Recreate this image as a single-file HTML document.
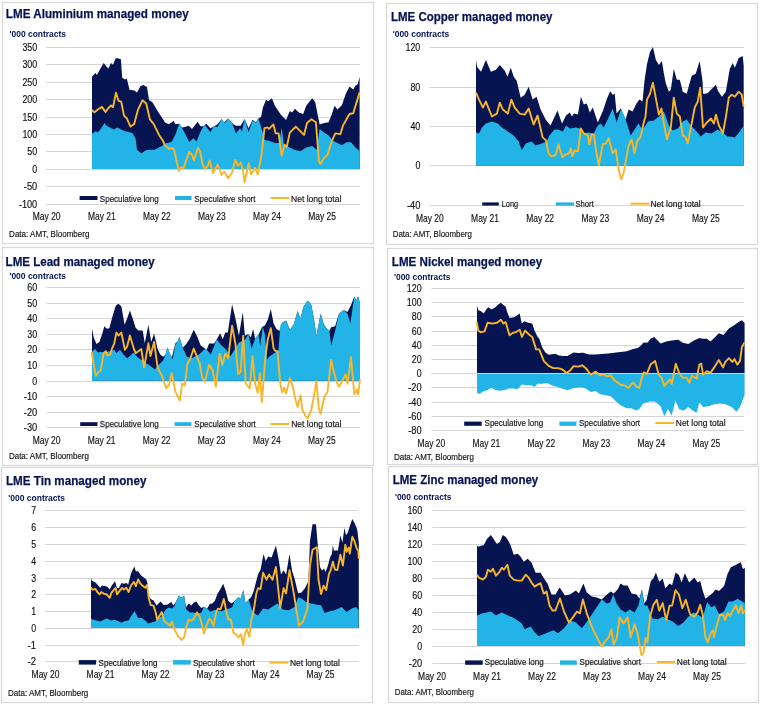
<!DOCTYPE html>
<html><head><meta charset="utf-8"><style>
html,body{margin:0;padding:0;background:#fff;width:760px;height:704px;overflow:hidden}
svg{display:block;will-change:transform}
text{font-family:"Liberation Sans", sans-serif}
</style></head><body>
<svg width="760" height="704" viewBox="0 0 760 704">
<rect width="760" height="704" fill="#fff"/>
<rect x="2.5" y="2.5" width="371.0" height="241.0" fill="#fff" stroke="#d9d9d9" stroke-width="1.3"/>
<text x="5.8" y="17.7" font-size="13.00" font-weight="bold" fill="#061452" text-anchor="start" textLength="183.0" lengthAdjust="spacingAndGlyphs" stroke="#061452" stroke-width="0.25">LME Aluminium managed money</text>
<text x="9.5" y="37.1" font-size="9.80" font-weight="bold" fill="#061452" text-anchor="start" textLength="56.5" lengthAdjust="spacingAndGlyphs">'000 contracts</text>
<line x1="46.0" y1="47.50" x2="360.0" y2="47.50" stroke="#d5d5d5" stroke-width="1"/>
<line x1="46.0" y1="64.50" x2="360.0" y2="64.50" stroke="#d5d5d5" stroke-width="1"/>
<line x1="46.0" y1="82.50" x2="360.0" y2="82.50" stroke="#d5d5d5" stroke-width="1"/>
<line x1="46.0" y1="99.50" x2="360.0" y2="99.50" stroke="#d5d5d5" stroke-width="1"/>
<line x1="46.0" y1="117.50" x2="360.0" y2="117.50" stroke="#d5d5d5" stroke-width="1"/>
<line x1="46.0" y1="134.50" x2="360.0" y2="134.50" stroke="#d5d5d5" stroke-width="1"/>
<line x1="46.0" y1="151.50" x2="360.0" y2="151.50" stroke="#d5d5d5" stroke-width="1"/>
<line x1="46.0" y1="169.50" x2="360.0" y2="169.50" stroke="#d5d5d5" stroke-width="1"/>
<line x1="46.0" y1="186.50" x2="360.0" y2="186.50" stroke="#d5d5d5" stroke-width="1"/>
<line x1="46.0" y1="204.50" x2="360.0" y2="204.50" stroke="#d5d5d5" stroke-width="1"/>
<polygon points="92.0,169.1 92.0,76.8 95.4,73.0 96.9,75.0 101.0,67.5 103.7,63.0 106.5,66.6 108.3,68.5 111.0,63.0 113.0,64.8 115.7,58.3 117.5,58.3 120.9,59.2 122.2,77.7 125.0,79.5 126.8,78.6 129.5,89.7 134.2,90.6 137.0,92.5 140.6,86.0 143.4,85.0 147.0,87.0 149.0,99.9 152.6,102.6 158.2,111.9 163.7,120.2 165.0,122.4 168.9,124.3 173.6,121.0 175.5,124.3 178.8,123.7 182.1,127.6 184.7,127.0 188.7,125.7 192.0,128.9 197.6,121.7 200.5,126.3 203.2,126.3 206.4,123.7 210.4,128.3 214.3,126.3 217.6,124.3 221.6,119.0 223.6,123.0 228.2,118.4 233.4,124.3 236.0,125.7 240.7,125.7 244.6,119.0 248.6,128.3 252.5,119.7 255.8,122.4 258.4,118.4 261.0,117.0 263.0,107.3 266.0,99.8 268.2,101.3 271.9,98.3 274.9,105.8 277.9,110.3 280.9,114.7 286.1,120.0 289.8,111.0 292.1,112.5 295.0,108.8 298.8,112.5 303.2,114.0 306.2,105.8 309.2,102.0 312.2,98.3 315.2,102.0 317.4,113.2 319.6,124.4 324.1,123.0 328.6,122.2 331.6,114.7 334.6,105.8 337.5,109.5 342.0,105.0 345.7,93.9 349.5,86.4 353.2,89.4 355.4,85.7 357.7,84.2 359.6,76.7 359.6,169.1" fill="#061452"/>
<polygon points="92.0,169.1 92.0,134.0 95.4,131.3 98.0,132.2 101.0,128.5 104.6,123.0 106.5,125.7 110.0,127.6 114.0,129.4 117.5,127.6 121.0,129.4 125.0,131.3 132.3,133.0 135.6,138.6 137.0,149.7 141.5,153.4 145.2,150.6 149.0,149.7 154.5,149.7 161.9,146.0 165.0,143.4 171.6,142.1 175.5,134.2 179.5,123.0 182.1,128.3 184.7,132.9 189.3,142.1 193.3,138.2 196.6,141.4 199.9,132.9 204.5,124.3 210.4,132.2 213.7,126.3 217.6,127.0 221.6,119.0 224.9,123.0 228.2,118.4 232.1,123.0 236.0,133.6 240.0,128.3 242.0,131.6 244.6,119.0 248.6,132.2 252.5,120.4 255.8,123.0 258.4,118.4 262.4,131.6 264.5,140.0 269.0,140.8 274.9,143.0 279.4,143.0 281.6,127.4 283.9,144.6 289.8,147.5 294.3,149.8 300.3,151.3 306.2,147.5 312.2,146.0 316.7,149.8 319.6,128.9 324.1,132.6 328.6,135.6 333.1,140.8 337.5,143.0 342.0,145.3 346.5,142.3 351.0,142.3 355.4,147.5 359.6,151.3 359.6,169.1" fill="#22b4e7"/>
<polyline points="92.0,110.0 94.5,112.4 97.2,110.0 101.9,106.9 105.5,111.9 108.3,108.2 111.0,105.4 113.0,107.2 116.0,92.8 118.5,100.8 121.2,101.7 124.0,115.6 126.8,118.3 130.5,126.6 134.2,123.9 137.9,110.0 142.5,100.2 146.2,103.5 149.9,119.3 153.6,123.9 159.1,134.9 162.8,140.5 165.0,145.4 168.9,148.7 172.2,148.0 174.2,150.0 178.8,171.0 181.4,167.1 183.4,168.4 189.3,152.0 192.0,154.6 193.9,160.5 197.9,148.0 199.9,150.7 202.5,163.8 205.1,169.0 207.8,165.8 209.7,160.5 213.0,173.0 217.6,164.5 221.6,175.0 224.2,171.7 228.2,178.3 232.1,172.4 235.4,159.9 238.0,165.8 240.7,162.5 242.6,168.4 244.6,182.2 248.6,163.2 251.2,174.3 255.1,167.8 257.8,174.3 260.4,161.2 261.5,155.0 264.5,128.2 267.5,127.4 269.0,128.9 273.4,124.4 275.7,133.4 278.6,133.4 281.6,155.7 284.6,144.6 286.8,146.8 289.8,132.6 292.8,129.6 295.8,126.7 299.5,130.4 304.0,134.9 307.0,122.9 311.4,119.2 313.7,120.7 315.9,122.2 318.9,161.0 320.4,164.0 324.1,158.0 327.8,154.3 331.6,141.6 335.3,133.4 340.5,134.1 342.8,125.9 346.5,119.2 349.5,114.0 353.2,113.2 356.2,103.6 359.6,92.4" fill="none" stroke="#f9b52a" stroke-width="1.90" stroke-linejoin="round"/>
<text x="37.2" y="51.0" font-size="10.00" font-weight="normal" fill="#111111" text-anchor="end" textLength="14.8" lengthAdjust="spacingAndGlyphs" stroke="#111111" stroke-width="0.15">350</text>
<text x="37.2" y="68.0" font-size="10.00" font-weight="normal" fill="#111111" text-anchor="end" textLength="14.8" lengthAdjust="spacingAndGlyphs" stroke="#111111" stroke-width="0.15">300</text>
<text x="37.2" y="86.0" font-size="10.00" font-weight="normal" fill="#111111" text-anchor="end" textLength="14.8" lengthAdjust="spacingAndGlyphs" stroke="#111111" stroke-width="0.15">250</text>
<text x="37.2" y="103.0" font-size="10.00" font-weight="normal" fill="#111111" text-anchor="end" textLength="14.8" lengthAdjust="spacingAndGlyphs" stroke="#111111" stroke-width="0.15">200</text>
<text x="37.2" y="121.0" font-size="10.00" font-weight="normal" fill="#111111" text-anchor="end" textLength="14.8" lengthAdjust="spacingAndGlyphs" stroke="#111111" stroke-width="0.15">150</text>
<text x="37.2" y="138.0" font-size="10.00" font-weight="normal" fill="#111111" text-anchor="end" textLength="14.8" lengthAdjust="spacingAndGlyphs" stroke="#111111" stroke-width="0.15">100</text>
<text x="37.2" y="155.0" font-size="10.00" font-weight="normal" fill="#111111" text-anchor="end" textLength="9.9" lengthAdjust="spacingAndGlyphs" stroke="#111111" stroke-width="0.15">50</text>
<text x="37.2" y="173.0" font-size="10.00" font-weight="normal" fill="#111111" text-anchor="end" textLength="4.9" lengthAdjust="spacingAndGlyphs" stroke="#111111" stroke-width="0.15">0</text>
<text x="37.2" y="190.0" font-size="10.00" font-weight="normal" fill="#111111" text-anchor="end" textLength="13.4" lengthAdjust="spacingAndGlyphs" stroke="#111111" stroke-width="0.15">-50</text>
<text x="37.2" y="208.0" font-size="10.00" font-weight="normal" fill="#111111" text-anchor="end" textLength="18.3" lengthAdjust="spacingAndGlyphs" stroke="#111111" stroke-width="0.15">-100</text>
<text x="46.7" y="220.0" font-size="10.20" font-weight="normal" fill="#111111" text-anchor="middle" textLength="27.8" lengthAdjust="spacingAndGlyphs" stroke="#111111" stroke-width="0.15">May 20</text>
<text x="101.8" y="220.0" font-size="10.20" font-weight="normal" fill="#111111" text-anchor="middle" textLength="27.8" lengthAdjust="spacingAndGlyphs" stroke="#111111" stroke-width="0.15">May 21</text>
<text x="156.8" y="220.0" font-size="10.20" font-weight="normal" fill="#111111" text-anchor="middle" textLength="27.8" lengthAdjust="spacingAndGlyphs" stroke="#111111" stroke-width="0.15">May 22</text>
<text x="211.9" y="220.0" font-size="10.20" font-weight="normal" fill="#111111" text-anchor="middle" textLength="27.8" lengthAdjust="spacingAndGlyphs" stroke="#111111" stroke-width="0.15">May 23</text>
<text x="267.0" y="220.0" font-size="10.20" font-weight="normal" fill="#111111" text-anchor="middle" textLength="27.8" lengthAdjust="spacingAndGlyphs" stroke="#111111" stroke-width="0.15">May 24</text>
<text x="322.1" y="220.0" font-size="10.20" font-weight="normal" fill="#111111" text-anchor="middle" textLength="27.8" lengthAdjust="spacingAndGlyphs" stroke="#111111" stroke-width="0.15">May 25</text>
<rect x="79.6" y="196.0" width="17.9" height="4.0" fill="#061452"/>
<text x="99.8" y="201.7" font-size="8.60" font-weight="normal" fill="#111111" text-anchor="start" textLength="59.0" lengthAdjust="spacingAndGlyphs" stroke="#111111" stroke-width="0.15">Speculative long</text>
<rect x="175.0" y="196.0" width="16.5" height="4.0" fill="#22b4e7"/>
<text x="194.3" y="201.7" font-size="8.60" font-weight="normal" fill="#111111" text-anchor="start" textLength="61.2" lengthAdjust="spacingAndGlyphs" stroke="#111111" stroke-width="0.15">Speculative short</text>
<rect x="270.7" y="197.0" width="18.7" height="2.0" fill="#f9b52a"/>
<text x="291.0" y="201.7" font-size="8.60" font-weight="normal" fill="#111111" text-anchor="start" textLength="50.4" lengthAdjust="spacingAndGlyphs" stroke="#111111" stroke-width="0.15">Net long total</text>
<text x="9.1" y="237.2" font-size="8.80" font-weight="normal" fill="#111111" text-anchor="start" textLength="80.3" lengthAdjust="spacingAndGlyphs" stroke="#111111" stroke-width="0.15">Data: AMT, Bloomberg</text>
<rect x="386.5" y="3.5" width="371.0" height="241.0" fill="#fff" stroke="#d9d9d9" stroke-width="1.3"/>
<text x="391.0" y="20.8" font-size="13.00" font-weight="bold" fill="#061452" text-anchor="start" textLength="161.4" lengthAdjust="spacingAndGlyphs" stroke="#061452" stroke-width="0.25">LME Copper managed money</text>
<text x="392.7" y="37.0" font-size="9.80" font-weight="bold" fill="#061452" text-anchor="start" textLength="56.6" lengthAdjust="spacingAndGlyphs">'000 contracts</text>
<line x1="429.7" y1="47.50" x2="744.2" y2="47.50" stroke="#d5d5d5" stroke-width="1"/>
<line x1="429.7" y1="87.50" x2="744.2" y2="87.50" stroke="#d5d5d5" stroke-width="1"/>
<line x1="429.7" y1="126.50" x2="744.2" y2="126.50" stroke="#d5d5d5" stroke-width="1"/>
<line x1="429.7" y1="165.50" x2="744.2" y2="165.50" stroke="#d5d5d5" stroke-width="1"/>
<line x1="429.7" y1="205.50" x2="744.2" y2="205.50" stroke="#d5d5d5" stroke-width="1"/>
<polygon points="476.0,165.6 476.0,59.9 477.0,66.8 481.0,71.8 485.9,59.9 490.9,71.8 495.9,69.8 499.8,64.9 504.8,70.8 507.4,76.8 510.8,67.8 513.7,76.8 516.7,80.8 520.7,97.7 524.7,94.7 528.7,86.7 532.6,99.6 536.6,96.7 540.6,109.6 545.6,119.5 550.5,125.5 557.5,110.6 562.0,123.5 566.0,115.5 569.9,112.6 571.9,116.5 573.9,113.6 577.9,114.6 580.9,96.7 583.8,104.6 586.8,103.6 589.8,112.6 592.8,107.6 597.8,122.5 602.7,111.6 606.7,99.6 610.1,91.3 612.7,94.7 614.7,93.7 616.6,113.6 620.6,108.6 625.6,119.5 628.6,109.6 632.6,111.6 636.5,103.6 639.5,99.6 642.5,101.6 644.5,80.8 647.0,63.9 650.0,51.9 652.9,47.0 655.9,59.9 658.9,64.9 661.9,60.9 663.9,73.8 665.9,83.7 668.9,91.7 670.8,89.7 673.8,68.8 676.8,79.8 679.8,79.8 682.8,91.7 686.7,93.7 691.7,75.8 695.7,73.8 699.7,60.9 702.6,81.7 703.0,93.7 705.6,93.7 708.0,92.7 711.9,88.7 715.9,84.7 717.9,90.7 721.9,96.7 725.8,91.7 729.8,68.8 732.8,62.9 734.8,67.8 738.8,57.9 742.7,55.9 743.7,65.8 743.7,165.6" fill="#061452"/>
<polygon points="476.0,165.6 476.0,132.4 479.0,133.4 482.0,127.5 485.9,123.5 491.9,121.5 497.8,123.5 501.8,127.5 507.8,131.5 513.7,135.4 518.7,141.4 521.7,150.3 525.7,143.4 531.6,141.4 535.6,145.4 541.6,143.4 546.6,141.4 549.5,135.4 554.5,129.5 558.0,129.5 563.0,131.5 566.0,125.5 569.9,128.5 575.9,127.5 579.9,128.5 582.9,133.4 587.8,132.4 593.8,133.4 597.8,125.5 600.7,123.5 603.7,127.5 607.7,119.5 612.7,108.6 616.6,122.5 621.2,108.6 625.6,119.5 630.6,135.4 634.5,129.5 638.5,123.5 641.5,128.5 644.0,127.5 648.0,121.5 653.9,120.5 658.9,116.5 663.9,111.6 668.9,125.5 672.8,130.5 677.8,128.5 682.8,121.5 686.7,119.5 691.7,126.5 696.7,131.5 700.7,136.4 705.6,132.4 711.6,133.4 717.6,129.5 722.5,132.4 727.5,136.4 732.0,136.8 734.8,137.4 739.8,131.5 743.7,125.5 743.7,165.6" fill="#22b4e7"/>
<polyline points="476.0,92.7 479.0,99.6 482.9,107.6 485.9,101.6 491.9,116.5 496.9,113.6 499.8,102.6 502.8,109.6 507.8,113.6 511.4,99.6 514.7,107.6 519.7,113.6 524.7,114.6 528.7,108.6 533.6,124.5 537.6,115.5 542.6,137.4 546.0,140.4 548.5,153.3 551.5,156.3 555.5,155.3 558.5,144.4 562.4,157.3 566.0,154.3 568.9,153.3 570.9,148.3 572.3,156.3 574.9,150.3 577.9,151.3 580.9,128.5 583.8,133.4 587.8,135.4 589.4,144.4 591.8,134.4 593.8,134.4 596.2,151.3 598.8,165.2 602.7,144.4 605.7,143.4 608.7,138.4 612.7,153.3 615.7,149.3 618.6,169.2 621.2,179.2 623.6,173.2 628.6,145.4 631.6,139.4 634.5,153.3 637.5,140.4 640.5,137.4 643.5,123.5 645.5,116.5 647.0,99.6 650.0,93.7 652.9,82.7 655.9,98.6 658.9,114.6 661.5,108.6 663.9,123.5 666.9,139.4 670.8,127.5 673.8,97.7 676.8,113.6 679.8,116.5 682.8,135.4 685.7,137.4 687.7,143.4 691.7,123.5 694.7,107.6 697.7,101.6 700.2,87.7 703.0,127.5 706.0,123.5 710.9,118.5 713.9,123.5 715.9,114.6 718.9,125.5 722.9,133.4 725.8,117.5 728.8,97.7 731.8,94.7 734.8,96.7 738.8,91.7 741.7,94.7 743.7,106.6" fill="none" stroke="#f9b52a" stroke-width="1.90" stroke-linejoin="round"/>
<text x="420.3" y="51.0" font-size="10.00" font-weight="normal" fill="#111111" text-anchor="end" textLength="14.8" lengthAdjust="spacingAndGlyphs" stroke="#111111" stroke-width="0.15">120</text>
<text x="420.3" y="91.0" font-size="10.00" font-weight="normal" fill="#111111" text-anchor="end" textLength="9.9" lengthAdjust="spacingAndGlyphs" stroke="#111111" stroke-width="0.15">80</text>
<text x="420.3" y="130.0" font-size="10.00" font-weight="normal" fill="#111111" text-anchor="end" textLength="9.9" lengthAdjust="spacingAndGlyphs" stroke="#111111" stroke-width="0.15">40</text>
<text x="420.3" y="169.0" font-size="10.00" font-weight="normal" fill="#111111" text-anchor="end" textLength="4.9" lengthAdjust="spacingAndGlyphs" stroke="#111111" stroke-width="0.15">0</text>
<text x="420.3" y="209.0" font-size="10.00" font-weight="normal" fill="#111111" text-anchor="end" textLength="13.4" lengthAdjust="spacingAndGlyphs" stroke="#111111" stroke-width="0.15">-40</text>
<text x="429.8" y="221.7" font-size="10.20" font-weight="normal" fill="#111111" text-anchor="middle" textLength="27.8" lengthAdjust="spacingAndGlyphs" stroke="#111111" stroke-width="0.15">May 20</text>
<text x="485.0" y="221.7" font-size="10.20" font-weight="normal" fill="#111111" text-anchor="middle" textLength="27.8" lengthAdjust="spacingAndGlyphs" stroke="#111111" stroke-width="0.15">May 21</text>
<text x="540.2" y="221.7" font-size="10.20" font-weight="normal" fill="#111111" text-anchor="middle" textLength="27.8" lengthAdjust="spacingAndGlyphs" stroke="#111111" stroke-width="0.15">May 22</text>
<text x="595.4" y="221.7" font-size="10.20" font-weight="normal" fill="#111111" text-anchor="middle" textLength="27.8" lengthAdjust="spacingAndGlyphs" stroke="#111111" stroke-width="0.15">May 23</text>
<text x="650.6" y="221.7" font-size="10.20" font-weight="normal" fill="#111111" text-anchor="middle" textLength="27.8" lengthAdjust="spacingAndGlyphs" stroke="#111111" stroke-width="0.15">May 24</text>
<text x="705.8" y="221.7" font-size="10.20" font-weight="normal" fill="#111111" text-anchor="middle" textLength="27.8" lengthAdjust="spacingAndGlyphs" stroke="#111111" stroke-width="0.15">May 25</text>
<rect x="482.2" y="202.4" width="16.6" height="3.2" fill="#061452"/>
<text x="501.7" y="207.3" font-size="8.60" font-weight="normal" fill="#111111" text-anchor="start" textLength="16.4" lengthAdjust="spacingAndGlyphs" stroke="#111111" stroke-width="0.15">Long</text>
<rect x="556.0" y="202.4" width="17.9" height="3.2" fill="#22b4e7"/>
<text x="575.4" y="207.3" font-size="8.60" font-weight="normal" fill="#111111" text-anchor="start" textLength="18.4" lengthAdjust="spacingAndGlyphs" stroke="#111111" stroke-width="0.15">Short</text>
<rect x="630.5" y="202.7" width="19.0" height="2.0" fill="#f9b52a"/>
<text x="650.4" y="207.3" font-size="8.60" font-weight="normal" fill="#111111" text-anchor="start" textLength="50.3" lengthAdjust="spacingAndGlyphs" stroke="#111111" stroke-width="0.15">Net long total</text>
<text x="392.7" y="237.3" font-size="8.80" font-weight="normal" fill="#111111" text-anchor="start" textLength="79.2" lengthAdjust="spacingAndGlyphs" stroke="#111111" stroke-width="0.15">Data: AMT, Bloomberg</text>
<rect x="2.5" y="247.5" width="371.0" height="218.0" fill="#fff" stroke="#d9d9d9" stroke-width="1.3"/>
<text x="5.6" y="265.9" font-size="13.00" font-weight="bold" fill="#061452" text-anchor="start" textLength="149.0" lengthAdjust="spacingAndGlyphs" stroke="#061452" stroke-width="0.25">LME Lead managed money</text>
<text x="9.4" y="278.6" font-size="9.80" font-weight="bold" fill="#061452" text-anchor="start" textLength="56.6" lengthAdjust="spacingAndGlyphs">'000 contracts</text>
<line x1="46.4" y1="287.50" x2="360.0" y2="287.50" stroke="#d5d5d5" stroke-width="1"/>
<line x1="46.4" y1="303.50" x2="360.0" y2="303.50" stroke="#d5d5d5" stroke-width="1"/>
<line x1="46.4" y1="318.50" x2="360.0" y2="318.50" stroke="#d5d5d5" stroke-width="1"/>
<line x1="46.4" y1="334.50" x2="360.0" y2="334.50" stroke="#d5d5d5" stroke-width="1"/>
<line x1="46.4" y1="349.50" x2="360.0" y2="349.50" stroke="#d5d5d5" stroke-width="1"/>
<line x1="46.4" y1="365.50" x2="360.0" y2="365.50" stroke="#d5d5d5" stroke-width="1"/>
<line x1="46.4" y1="381.50" x2="360.0" y2="381.50" stroke="#d5d5d5" stroke-width="1"/>
<line x1="46.4" y1="396.50" x2="360.0" y2="396.50" stroke="#d5d5d5" stroke-width="1"/>
<line x1="46.4" y1="412.50" x2="360.0" y2="412.50" stroke="#d5d5d5" stroke-width="1"/>
<line x1="46.4" y1="427.50" x2="360.0" y2="427.50" stroke="#d5d5d5" stroke-width="1"/>
<polygon points="92.0,380.8 92.0,328.4 93.7,337.6 96.5,344.0 99.4,341.9 102.2,334.1 104.3,326.3 106.5,328.4 109.3,328.4 112.1,317.7 115.7,305.7 118.5,303.8 121.4,306.4 124.6,324.8 127.1,318.4 129.9,310.6 132.7,318.4 135.6,327.7 138.4,330.5 142.7,330.5 144.8,343.3 148.4,324.8 151.2,341.9 154.1,333.4 157.6,349.0 160.4,354.7 163.3,356.8 165.4,354.7 167.5,347.6 169.7,353.2 171.8,357.5 175.4,343.3 178.0,341.2 179.3,336.6 182.7,347.7 186.1,344.3 189.5,339.2 193.7,329.8 197.2,336.6 200.6,345.2 204.0,347.7 206.5,350.3 209.1,343.5 214.2,343.5 216.8,339.2 220.2,333.2 222.7,339.2 225.3,332.4 227.8,332.4 232.1,304.3 235.5,318.7 238.9,335.8 242.8,311.9 244.9,335.8 248.3,334.1 250.8,337.5 253.1,329.0 255.1,338.4 258.5,334.9 261.9,327.3 265.0,325.3 267.9,319.5 270.8,309.0 273.6,323.4 276.5,329.1 279.4,331.1 282.3,322.4 286.1,320.5 290.0,330.1 293.8,324.3 297.6,310.9 300.5,318.6 303.4,307.1 307.6,300.4 311.1,304.2 313.9,318.6 316.4,335.9 320.7,313.8 323.5,323.4 326.4,328.2 329.3,331.1 331.2,327.2 335.1,326.3 338.9,313.8 343.7,310.0 347.5,311.9 351.4,304.2 354.3,296.5 356.2,300.4 358.1,296.5 360.0,303.2 360.0,380.8" fill="#061452"/>
<polygon points="92.0,380.8 92.0,351.8 95.1,349.0 97.9,352.5 100.8,351.8 103.6,352.5 107.2,351.8 110.7,351.1 114.3,349.7 116.4,353.2 120.0,349.7 123.5,354.7 127.1,358.2 130.6,355.4 133.5,352.5 137.7,357.5 142.0,360.3 146.2,363.2 150.5,366.0 154.8,369.6 159.0,364.6 163.3,360.3 165.4,354.7 167.5,347.6 169.7,353.2 172.5,359.6 175.4,344.7 178.0,341.2 179.3,336.6 182.7,347.7 186.9,357.1 192.0,358.0 198.9,354.5 205.7,348.6 210.8,354.5 216.8,339.2 220.2,344.3 226.1,349.4 230.4,356.2 234.7,349.4 238.9,342.6 244.9,340.1 248.3,334.1 251.7,348.6 255.1,338.4 258.5,334.1 260.2,346.0 262.8,326.4 265.0,335.0 267.0,359.7 268.8,357.0 271.7,355.1 274.6,353.1 278.4,350.3 280.4,325.3 282.3,322.4 286.1,320.5 290.0,330.1 293.8,324.3 297.6,310.9 300.5,318.6 303.4,307.1 307.6,300.4 311.1,304.2 313.9,318.6 316.4,335.9 320.7,313.8 323.5,323.4 326.4,328.2 329.3,330.1 331.2,345.5 335.1,331.1 338.9,313.8 343.7,310.0 347.5,313.8 350.4,323.4 352.3,310.0 354.3,296.5 356.2,300.4 358.1,296.5 360.0,303.2 360.0,380.8" fill="#22b4e7"/>
<polyline points="91.6,351.8 93.7,364.6 95.8,376.0 98.7,371.7 100.8,370.3 103.6,353.2 105.8,351.1 107.2,355.4 110.0,354.7 112.1,348.3 114.3,343.3 116.4,332.6 118.5,335.5 121.4,332.6 124.9,349.7 127.1,346.8 129.9,335.5 133.5,347.6 135.6,353.2 137.7,351.8 141.3,349.0 144.1,367.4 148.4,343.3 150.5,356.1 154.1,341.9 157.6,367.4 161.9,376.0 166.1,388.0 169.0,385.2 171.8,373.1 175.4,391.6 179.8,400.6 182.2,383.5 184.9,385.2 187.3,363.9 190.3,358.8 193.7,348.6 197.2,357.1 199.7,363.1 202.3,378.4 204.8,381.8 209.1,364.8 212.5,369.9 215.9,386.9 219.7,353.7 222.4,364.8 225.3,353.7 228.2,358.0 232.1,325.6 235.5,344.3 238.1,374.1 240.6,371.6 243.2,335.8 245.7,383.5 249.7,388.6 252.6,356.2 255.1,383.5 257.7,392.9 259.9,373.3 261.9,402.3 265.3,358.0 267.9,338.7 270.8,328.2 273.6,348.3 275.6,351.2 277.5,351.2 280.4,384.8 282.3,392.5 284.2,387.7 286.1,393.4 290.0,378.1 292.8,386.7 295.7,400.2 297.6,406.9 300.5,395.4 302.4,409.8 305.3,415.5 307.6,418.4 311.1,410.7 313.9,396.3 316.4,381.0 318.7,407.8 320.7,413.6 324.5,396.3 327.4,392.5 331.2,359.9 334.1,373.3 337.0,382.9 338.9,386.7 341.8,381.9 345.6,374.3 347.5,383.8 351.0,357.0 354.3,394.4 356.7,389.6 358.1,394.4 360.0,379.0" fill="none" stroke="#f9b52a" stroke-width="1.90" stroke-linejoin="round"/>
<text x="37.2" y="291.0" font-size="10.00" font-weight="normal" fill="#111111" text-anchor="end" textLength="9.9" lengthAdjust="spacingAndGlyphs" stroke="#111111" stroke-width="0.15">60</text>
<text x="37.2" y="307.0" font-size="10.00" font-weight="normal" fill="#111111" text-anchor="end" textLength="9.9" lengthAdjust="spacingAndGlyphs" stroke="#111111" stroke-width="0.15">50</text>
<text x="37.2" y="322.0" font-size="10.00" font-weight="normal" fill="#111111" text-anchor="end" textLength="9.9" lengthAdjust="spacingAndGlyphs" stroke="#111111" stroke-width="0.15">40</text>
<text x="37.2" y="338.0" font-size="10.00" font-weight="normal" fill="#111111" text-anchor="end" textLength="9.9" lengthAdjust="spacingAndGlyphs" stroke="#111111" stroke-width="0.15">30</text>
<text x="37.2" y="353.0" font-size="10.00" font-weight="normal" fill="#111111" text-anchor="end" textLength="9.9" lengthAdjust="spacingAndGlyphs" stroke="#111111" stroke-width="0.15">20</text>
<text x="37.2" y="369.0" font-size="10.00" font-weight="normal" fill="#111111" text-anchor="end" textLength="9.9" lengthAdjust="spacingAndGlyphs" stroke="#111111" stroke-width="0.15">10</text>
<text x="37.2" y="385.0" font-size="10.00" font-weight="normal" fill="#111111" text-anchor="end" textLength="4.9" lengthAdjust="spacingAndGlyphs" stroke="#111111" stroke-width="0.15">0</text>
<text x="37.2" y="400.0" font-size="10.00" font-weight="normal" fill="#111111" text-anchor="end" textLength="13.4" lengthAdjust="spacingAndGlyphs" stroke="#111111" stroke-width="0.15">-10</text>
<text x="37.2" y="416.0" font-size="10.00" font-weight="normal" fill="#111111" text-anchor="end" textLength="13.4" lengthAdjust="spacingAndGlyphs" stroke="#111111" stroke-width="0.15">-20</text>
<text x="37.2" y="431.0" font-size="10.00" font-weight="normal" fill="#111111" text-anchor="end" textLength="13.4" lengthAdjust="spacingAndGlyphs" stroke="#111111" stroke-width="0.15">-30</text>
<text x="46.6" y="444.0" font-size="10.20" font-weight="normal" fill="#111111" text-anchor="middle" textLength="27.8" lengthAdjust="spacingAndGlyphs" stroke="#111111" stroke-width="0.15">May 20</text>
<text x="101.7" y="444.0" font-size="10.20" font-weight="normal" fill="#111111" text-anchor="middle" textLength="27.8" lengthAdjust="spacingAndGlyphs" stroke="#111111" stroke-width="0.15">May 21</text>
<text x="156.7" y="444.0" font-size="10.20" font-weight="normal" fill="#111111" text-anchor="middle" textLength="27.8" lengthAdjust="spacingAndGlyphs" stroke="#111111" stroke-width="0.15">May 22</text>
<text x="211.7" y="444.0" font-size="10.20" font-weight="normal" fill="#111111" text-anchor="middle" textLength="27.8" lengthAdjust="spacingAndGlyphs" stroke="#111111" stroke-width="0.15">May 23</text>
<text x="266.8" y="444.0" font-size="10.20" font-weight="normal" fill="#111111" text-anchor="middle" textLength="27.8" lengthAdjust="spacingAndGlyphs" stroke="#111111" stroke-width="0.15">May 24</text>
<text x="321.9" y="444.0" font-size="10.20" font-weight="normal" fill="#111111" text-anchor="middle" textLength="27.8" lengthAdjust="spacingAndGlyphs" stroke="#111111" stroke-width="0.15">May 25</text>
<rect x="80.2" y="422.2" width="17.3" height="3.8" fill="#061452"/>
<text x="99.8" y="426.8" font-size="8.60" font-weight="normal" fill="#111111" text-anchor="start" textLength="59.0" lengthAdjust="spacingAndGlyphs" stroke="#111111" stroke-width="0.15">Speculative long</text>
<rect x="174.6" y="422.2" width="16.8" height="3.8" fill="#22b4e7"/>
<text x="194.3" y="426.8" font-size="8.60" font-weight="normal" fill="#111111" text-anchor="start" textLength="61.5" lengthAdjust="spacingAndGlyphs" stroke="#111111" stroke-width="0.15">Speculative short</text>
<rect x="270.5" y="423.0" width="18.5" height="2.0" fill="#f9b52a"/>
<text x="291.2" y="426.8" font-size="8.60" font-weight="normal" fill="#111111" text-anchor="start" textLength="50.3" lengthAdjust="spacingAndGlyphs" stroke="#111111" stroke-width="0.15">Net long total</text>
<text x="8.9" y="458.9" font-size="8.80" font-weight="normal" fill="#111111" text-anchor="start" textLength="80.1" lengthAdjust="spacingAndGlyphs" stroke="#111111" stroke-width="0.15">Data: AMT, Bloomberg</text>
<rect x="387.5" y="248.5" width="370.0" height="216.0" fill="#fff" stroke="#d9d9d9" stroke-width="1.3"/>
<text x="391.8" y="266.0" font-size="13.00" font-weight="bold" fill="#061452" text-anchor="start" textLength="150.3" lengthAdjust="spacingAndGlyphs" stroke="#061452" stroke-width="0.25">LME Nickel manged money</text>
<text x="393.9" y="279.6" font-size="9.80" font-weight="bold" fill="#061452" text-anchor="start" textLength="56.7" lengthAdjust="spacingAndGlyphs">'000 contracts</text>
<line x1="431.4" y1="288.50" x2="744.4" y2="288.50" stroke="#d5d5d5" stroke-width="1"/>
<line x1="431.4" y1="302.50" x2="744.4" y2="302.50" stroke="#d5d5d5" stroke-width="1"/>
<line x1="431.4" y1="316.50" x2="744.4" y2="316.50" stroke="#d5d5d5" stroke-width="1"/>
<line x1="431.4" y1="331.50" x2="744.4" y2="331.50" stroke="#d5d5d5" stroke-width="1"/>
<line x1="431.4" y1="345.50" x2="744.4" y2="345.50" stroke="#d5d5d5" stroke-width="1"/>
<line x1="431.4" y1="359.50" x2="744.4" y2="359.50" stroke="#d5d5d5" stroke-width="1"/>
<line x1="431.4" y1="373.50" x2="744.4" y2="373.50" stroke="#d5d5d5" stroke-width="1"/>
<line x1="431.4" y1="387.50" x2="744.4" y2="387.50" stroke="#d5d5d5" stroke-width="1"/>
<line x1="431.4" y1="402.50" x2="744.4" y2="402.50" stroke="#d5d5d5" stroke-width="1"/>
<line x1="431.4" y1="416.50" x2="744.4" y2="416.50" stroke="#d5d5d5" stroke-width="1"/>
<line x1="431.4" y1="430.50" x2="744.4" y2="430.50" stroke="#d5d5d5" stroke-width="1"/>
<polygon points="477.0,373.0 477.0,305.6 478.3,310.3 480.6,311.1 483.7,313.4 486.8,308.8 488.4,307.2 491.5,309.5 495.4,307.2 497.8,304.8 500.9,302.8 504.0,305.6 505.6,306.4 507.2,311.9 509.5,318.1 514.2,317.3 516.5,315.8 519.7,313.4 521.7,323.6 524.3,321.3 528.3,322.8 532.2,323.6 534.5,330.6 537.6,336.9 539.2,338.4 542.3,347.8 545.4,352.5 548.6,354.8 553.3,354.1 556.4,354.1 558.0,355.2 562.7,355.9 567.4,355.9 573.6,352.5 578.3,353.1 583.0,352.8 589.3,354.4 595.5,354.4 601.8,354.1 608.0,353.6 614.3,352.8 620.5,352.0 626.8,351.3 633.0,348.9 637.7,348.1 640.8,345.8 643.2,342.7 647.7,342.5 650.5,338.8 654.2,336.9 656.9,339.7 660.6,343.4 666.2,341.6 671.7,340.6 678.2,339.7 682.8,342.8 688.3,344.0 693.9,340.6 699.4,337.9 703.1,338.8 706.8,338.8 710.5,341.6 714.2,337.9 718.8,333.2 723.4,335.1 728.9,328.6 734.5,324.9 738.2,322.2 741.9,320.3 744.6,323.1 744.6,373.0" fill="#061452"/>
<polygon points="477.0,374.0 477.0,393.1 479.8,393.9 482.9,391.6 487.6,390.0 491.5,387.7 495.4,390.0 500.1,390.8 504.8,390.0 508.7,388.4 513.4,388.4 517.3,389.2 522.0,384.5 526.7,385.3 531.4,385.3 534.5,386.9 537.6,383.8 542.3,383.8 547.0,383.0 551.7,385.3 557.2,386.9 562.7,388.8 567.4,390.3 573.6,388.0 581.4,387.2 586.1,388.8 590.8,391.9 595.5,391.1 600.2,394.2 604.9,395.0 611.1,396.6 615.8,401.3 620.5,405.2 626.8,408.3 631.4,408.3 636.1,410.6 639.3,409.1 643.2,403.6 649.5,401.6 655.1,401.6 660.6,406.2 664.3,416.3 668.0,409.0 671.7,415.4 675.4,400.6 679.1,409.0 683.7,410.8 688.3,407.1 692.9,410.8 696.6,412.7 699.4,402.5 703.1,407.1 708.6,406.2 714.2,404.3 719.7,403.4 725.3,404.3 731.7,407.1 736.3,411.7 740.0,407.1 744.6,395.1 744.6,374.0" fill="#22b4e7"/>
<line x1="431.4" y1="373.50" x2="744.4" y2="373.50" stroke="#d5d5d5" stroke-width="1"/>
<polyline points="476.7,322.0 478.3,330.6 480.6,332.2 484.5,331.4 487.6,322.8 492.3,323.6 497.0,322.8 500.9,319.7 503.3,323.6 505.6,322.0 509.5,335.3 512.6,333.0 515.8,332.2 519.7,329.8 522.0,336.9 525.1,330.6 529.0,334.5 532.2,336.9 536.1,349.4 539.2,349.4 543.9,361.1 548.6,365.8 553.3,368.1 557.9,368.1 561.9,369.2 566.6,373.1 569.7,370.8 573.6,366.1 578.3,366.6 582.2,365.3 586.1,368.4 590.8,374.7 595.5,371.6 600.2,375.5 603.3,373.9 606.4,376.3 611.1,375.5 614.3,380.2 620.5,384.8 625.2,385.6 628.3,388.0 633.0,382.5 636.1,386.4 639.3,388.0 641.6,378.6 643.9,372.3 646.8,373.9 650.5,364.6 655.1,360.9 658.8,374.8 661.5,377.6 664.3,385.9 669.9,379.4 671.7,384.0 675.8,363.7 679.1,372.9 682.8,377.6 686.5,377.6 689.2,382.7 692.0,375.7 696.6,378.5 699.4,364.6 701.2,363.7 703.1,374.8 706.8,371.1 710.5,372.9 714.2,367.4 718.8,360.0 723.0,367.4 725.3,361.9 728.9,358.2 732.3,361.9 734.5,359.1 737.3,364.6 740.0,360.9 741.9,347.1 744.6,342.5" fill="none" stroke="#f9b52a" stroke-width="1.90" stroke-linejoin="round"/>
<text x="421.6" y="292.0" font-size="10.00" font-weight="normal" fill="#111111" text-anchor="end" textLength="14.8" lengthAdjust="spacingAndGlyphs" stroke="#111111" stroke-width="0.15">120</text>
<text x="421.6" y="306.0" font-size="10.00" font-weight="normal" fill="#111111" text-anchor="end" textLength="14.8" lengthAdjust="spacingAndGlyphs" stroke="#111111" stroke-width="0.15">100</text>
<text x="421.6" y="320.0" font-size="10.00" font-weight="normal" fill="#111111" text-anchor="end" textLength="9.9" lengthAdjust="spacingAndGlyphs" stroke="#111111" stroke-width="0.15">80</text>
<text x="421.6" y="335.0" font-size="10.00" font-weight="normal" fill="#111111" text-anchor="end" textLength="9.9" lengthAdjust="spacingAndGlyphs" stroke="#111111" stroke-width="0.15">60</text>
<text x="421.6" y="349.0" font-size="10.00" font-weight="normal" fill="#111111" text-anchor="end" textLength="9.9" lengthAdjust="spacingAndGlyphs" stroke="#111111" stroke-width="0.15">40</text>
<text x="421.6" y="363.0" font-size="10.00" font-weight="normal" fill="#111111" text-anchor="end" textLength="9.9" lengthAdjust="spacingAndGlyphs" stroke="#111111" stroke-width="0.15">20</text>
<text x="421.6" y="377.0" font-size="10.00" font-weight="normal" fill="#111111" text-anchor="end" textLength="4.9" lengthAdjust="spacingAndGlyphs" stroke="#111111" stroke-width="0.15">0</text>
<text x="421.6" y="391.0" font-size="10.00" font-weight="normal" fill="#111111" text-anchor="end" textLength="13.4" lengthAdjust="spacingAndGlyphs" stroke="#111111" stroke-width="0.15">-20</text>
<text x="421.6" y="406.0" font-size="10.00" font-weight="normal" fill="#111111" text-anchor="end" textLength="13.4" lengthAdjust="spacingAndGlyphs" stroke="#111111" stroke-width="0.15">-40</text>
<text x="421.6" y="420.0" font-size="10.00" font-weight="normal" fill="#111111" text-anchor="end" textLength="13.4" lengthAdjust="spacingAndGlyphs" stroke="#111111" stroke-width="0.15">-60</text>
<text x="421.6" y="434.0" font-size="10.00" font-weight="normal" fill="#111111" text-anchor="end" textLength="13.4" lengthAdjust="spacingAndGlyphs" stroke="#111111" stroke-width="0.15">-80</text>
<text x="431.4" y="446.8" font-size="10.20" font-weight="normal" fill="#111111" text-anchor="middle" textLength="27.8" lengthAdjust="spacingAndGlyphs" stroke="#111111" stroke-width="0.15">May 20</text>
<text x="486.4" y="446.8" font-size="10.20" font-weight="normal" fill="#111111" text-anchor="middle" textLength="27.8" lengthAdjust="spacingAndGlyphs" stroke="#111111" stroke-width="0.15">May 21</text>
<text x="541.4" y="446.8" font-size="10.20" font-weight="normal" fill="#111111" text-anchor="middle" textLength="27.8" lengthAdjust="spacingAndGlyphs" stroke="#111111" stroke-width="0.15">May 22</text>
<text x="596.4" y="446.8" font-size="10.20" font-weight="normal" fill="#111111" text-anchor="middle" textLength="27.8" lengthAdjust="spacingAndGlyphs" stroke="#111111" stroke-width="0.15">May 23</text>
<text x="651.4" y="446.8" font-size="10.20" font-weight="normal" fill="#111111" text-anchor="middle" textLength="27.8" lengthAdjust="spacingAndGlyphs" stroke="#111111" stroke-width="0.15">May 24</text>
<text x="706.4" y="446.8" font-size="10.20" font-weight="normal" fill="#111111" text-anchor="middle" textLength="27.8" lengthAdjust="spacingAndGlyphs" stroke="#111111" stroke-width="0.15">May 25</text>
<rect x="464.2" y="421.6" width="17.5" height="4.2" fill="#061452"/>
<text x="484.6" y="426.4" font-size="8.60" font-weight="normal" fill="#111111" text-anchor="start" textLength="58.6" lengthAdjust="spacingAndGlyphs" stroke="#111111" stroke-width="0.15">Speculative long</text>
<rect x="559.4" y="421.6" width="17.0" height="4.2" fill="#22b4e7"/>
<text x="579.0" y="426.4" font-size="8.60" font-weight="normal" fill="#111111" text-anchor="start" textLength="61.0" lengthAdjust="spacingAndGlyphs" stroke="#111111" stroke-width="0.15">Speculative short</text>
<rect x="655.4" y="422.0" width="18.7" height="2.0" fill="#f9b52a"/>
<text x="675.8" y="426.4" font-size="8.60" font-weight="normal" fill="#111111" text-anchor="start" textLength="49.9" lengthAdjust="spacingAndGlyphs" stroke="#111111" stroke-width="0.15">Net long total</text>
<text x="393.9" y="460.0" font-size="8.80" font-weight="normal" fill="#111111" text-anchor="start" textLength="80.1" lengthAdjust="spacingAndGlyphs" stroke="#111111" stroke-width="0.15">Data: AMT, Bloomberg</text>
<rect x="1.5" y="467.5" width="371.0" height="235.0" fill="#fff" stroke="#d9d9d9" stroke-width="1.3"/>
<text x="6.0" y="484.9" font-size="13.00" font-weight="bold" fill="#061452" text-anchor="start" textLength="140.4" lengthAdjust="spacingAndGlyphs" stroke="#061452" stroke-width="0.25">LME Tin managed money</text>
<text x="8.2" y="501.1" font-size="9.80" font-weight="bold" fill="#061452" text-anchor="start" textLength="56.9" lengthAdjust="spacingAndGlyphs">'000 contracts</text>
<line x1="45.2" y1="510.50" x2="358.6" y2="510.50" stroke="#d5d5d5" stroke-width="1"/>
<line x1="45.2" y1="527.50" x2="358.6" y2="527.50" stroke="#d5d5d5" stroke-width="1"/>
<line x1="45.2" y1="544.50" x2="358.6" y2="544.50" stroke="#d5d5d5" stroke-width="1"/>
<line x1="45.2" y1="561.50" x2="358.6" y2="561.50" stroke="#d5d5d5" stroke-width="1"/>
<line x1="45.2" y1="578.50" x2="358.6" y2="578.50" stroke="#d5d5d5" stroke-width="1"/>
<line x1="45.2" y1="594.50" x2="358.6" y2="594.50" stroke="#d5d5d5" stroke-width="1"/>
<line x1="45.2" y1="611.50" x2="358.6" y2="611.50" stroke="#d5d5d5" stroke-width="1"/>
<line x1="45.2" y1="628.50" x2="358.6" y2="628.50" stroke="#d5d5d5" stroke-width="1"/>
<line x1="45.2" y1="645.50" x2="358.6" y2="645.50" stroke="#d5d5d5" stroke-width="1"/>
<line x1="45.2" y1="661.50" x2="358.6" y2="661.50" stroke="#d5d5d5" stroke-width="1"/>
<polygon points="91.0,628.0 91.0,577.8 91.9,580.7 95.5,582.5 97.8,584.9 100.2,587.8 102.0,585.5 105.0,586.1 107.3,586.7 109.7,589.6 112.1,584.9 115.0,581.3 116.8,587.3 118.6,588.4 121.5,583.1 123.9,583.7 126.9,583.1 128.1,584.9 131.0,573.6 134.3,566.5 135.8,571.3 138.1,571.3 141.1,575.4 144.1,577.8 146.4,579.5 147.6,583.7 148.8,596.7 151.8,599.7 153.5,600.3 156.5,605.6 160.6,601.5 163.6,605.0 167.8,604.4 171.3,602.1 173.3,605.4 175.8,602.2 179.0,595.2 181.0,597.7 184.1,595.8 186.1,607.3 188.6,603.5 191.2,605.4 193.7,602.8 196.3,601.6 198.9,605.4 201.4,608.0 204.0,606.7 207.2,608.6 209.7,604.1 212.3,603.5 214.8,600.9 217.4,593.9 220.6,588.8 223.2,583.7 225.7,590.7 228.3,600.9 231.5,603.5 234.7,600.9 238.5,597.1 240.4,599.0 243.4,590.1 245.5,603.5 248.7,599.6 251.3,597.1 253.8,590.7 256.4,580.5 258.0,574.5 260.6,569.4 263.5,554.1 265.7,560.9 268.2,556.6 271.6,557.5 275.9,545.6 278.5,558.4 281.0,574.5 283.6,570.3 286.1,574.5 289.5,554.1 292.1,571.1 294.6,578.8 298.1,593.3 301.5,592.4 304.9,588.2 308.3,581.4 310.0,540.5 312.5,524.3 316.0,524.3 317.7,543.9 320.0,567.1 322.0,570.6 324.0,568.6 325.5,572.1 328.0,565.6 329.9,557.7 331.9,553.7 332.9,544.8 333.9,550.7 336.4,550.2 337.9,550.7 340.4,535.3 342.4,542.8 344.4,527.9 346.0,535.3 347.8,532.8 349.8,525.9 352.3,518.9 354.8,523.4 357.3,529.9 358.8,542.8 358.8,628.0" fill="#061452"/>
<polygon points="91.0,628.0 91.0,618.6 93.1,619.8 96.7,620.4 100.2,621.6 103.8,619.8 107.3,618.6 110.9,620.4 114.4,619.8 118.0,621.0 121.5,622.8 125.1,621.0 128.7,620.4 131.0,616.3 134.6,611.0 138.1,618.1 141.7,618.1 145.2,620.4 148.2,623.4 152.3,622.2 155.9,621.0 158.3,618.1 161.8,616.3 165.4,609.8 168.9,607.4 172.0,608.6 174.6,606.0 175.8,602.2 179.0,595.2 181.0,597.7 184.1,595.8 186.1,609.2 189.9,612.4 193.7,612.4 197.6,613.7 201.4,612.4 204.0,606.7 206.5,608.0 210.4,611.8 214.2,609.9 218.0,610.5 221.9,611.2 225.7,609.2 229.5,608.6 232.1,607.3 234.7,600.9 238.5,597.1 240.4,599.0 243.4,590.1 245.5,603.5 248.7,599.6 251.3,608.6 255.1,613.7 258.0,615.4 263.1,608.6 268.2,609.5 273.3,606.1 277.6,603.5 282.7,609.5 288.7,610.3 294.6,606.9 298.1,597.6 301.5,598.4 305.7,601.8 310.8,603.5 316.0,604.4 321.1,605.2 324.5,612.9 329.6,611.2 334.7,610.3 341.5,606.9 346.6,612.0 351.7,608.6 356.0,606.9 358.6,610.3 358.6,628.0" fill="#22b4e7"/>
<polyline points="90.7,587.3 92.5,589.6 95.5,589.0 97.3,592.0 99.6,594.4 101.4,592.0 103.8,593.8 106.7,594.4 109.7,597.9 111.5,592.6 115.6,587.8 117.0,594.4 119.2,591.4 122.1,587.8 123.9,589.6 126.3,587.8 128.7,592.0 131.0,585.5 134.0,581.9 135.8,586.1 138.1,579.5 140.5,583.7 142.9,586.1 145.2,587.8 147.0,584.9 148.8,597.9 150.6,605.0 153.5,605.6 155.9,613.3 157.1,619.8 159.5,615.7 161.8,612.1 164.2,621.0 167.8,624.0 170.1,625.8 172.0,621.4 174.6,629.7 178.4,636.7 181.6,639.9 184.1,637.4 186.1,627.8 188.6,619.5 191.2,620.7 193.7,618.8 196.9,612.4 199.5,616.3 202.1,625.2 204.0,633.5 205.9,627.1 209.1,618.8 211.0,620.1 213.6,625.9 216.1,612.4 218.0,608.6 220.6,609.2 223.8,599.0 226.3,611.2 228.3,619.5 230.8,619.5 233.4,632.9 235.9,634.2 238.5,637.4 241.1,634.2 243.0,645.0 244.9,634.2 246.8,629.1 249.4,636.7 251.3,619.5 253.8,609.9 256.4,593.2 258.0,588.2 260.6,589.0 263.1,572.8 266.5,579.7 269.1,574.5 272.5,579.7 275.9,566.9 280.2,607.8 283.6,588.2 286.1,593.3 289.5,570.3 293.8,593.3 298.9,625.7 303.2,621.4 307.4,608.6 310.0,565.2 312.5,549.8 316.8,547.3 318.5,579.7 321.1,594.1 323.6,585.6 326.2,589.9 328.9,574.1 330.9,569.6 332.9,561.7 334.9,569.6 337.4,570.1 340.4,554.7 342.9,565.6 345.3,544.8 346.8,551.7 348.8,547.7 349.8,553.7 352.3,536.8 354.3,540.8 356.8,548.7 358.3,550.7 358.8,558.7" fill="none" stroke="#f9b52a" stroke-width="1.90" stroke-linejoin="round"/>
<text x="36.1" y="514.0" font-size="10.00" font-weight="normal" fill="#111111" text-anchor="end" textLength="4.9" lengthAdjust="spacingAndGlyphs" stroke="#111111" stroke-width="0.15">7</text>
<text x="36.1" y="531.0" font-size="10.00" font-weight="normal" fill="#111111" text-anchor="end" textLength="4.9" lengthAdjust="spacingAndGlyphs" stroke="#111111" stroke-width="0.15">6</text>
<text x="36.1" y="548.0" font-size="10.00" font-weight="normal" fill="#111111" text-anchor="end" textLength="4.9" lengthAdjust="spacingAndGlyphs" stroke="#111111" stroke-width="0.15">5</text>
<text x="36.1" y="565.0" font-size="10.00" font-weight="normal" fill="#111111" text-anchor="end" textLength="4.9" lengthAdjust="spacingAndGlyphs" stroke="#111111" stroke-width="0.15">4</text>
<text x="36.1" y="582.0" font-size="10.00" font-weight="normal" fill="#111111" text-anchor="end" textLength="4.9" lengthAdjust="spacingAndGlyphs" stroke="#111111" stroke-width="0.15">3</text>
<text x="36.1" y="598.0" font-size="10.00" font-weight="normal" fill="#111111" text-anchor="end" textLength="4.9" lengthAdjust="spacingAndGlyphs" stroke="#111111" stroke-width="0.15">2</text>
<text x="36.1" y="615.0" font-size="10.00" font-weight="normal" fill="#111111" text-anchor="end" textLength="4.9" lengthAdjust="spacingAndGlyphs" stroke="#111111" stroke-width="0.15">1</text>
<text x="36.1" y="632.0" font-size="10.00" font-weight="normal" fill="#111111" text-anchor="end" textLength="4.9" lengthAdjust="spacingAndGlyphs" stroke="#111111" stroke-width="0.15">0</text>
<text x="36.1" y="649.0" font-size="10.00" font-weight="normal" fill="#111111" text-anchor="end" textLength="8.5" lengthAdjust="spacingAndGlyphs" stroke="#111111" stroke-width="0.15">-1</text>
<text x="36.1" y="665.0" font-size="10.00" font-weight="normal" fill="#111111" text-anchor="end" textLength="8.5" lengthAdjust="spacingAndGlyphs" stroke="#111111" stroke-width="0.15">-2</text>
<text x="45.5" y="678.0" font-size="10.20" font-weight="normal" fill="#111111" text-anchor="middle" textLength="27.8" lengthAdjust="spacingAndGlyphs" stroke="#111111" stroke-width="0.15">May 20</text>
<text x="100.5" y="678.0" font-size="10.20" font-weight="normal" fill="#111111" text-anchor="middle" textLength="27.8" lengthAdjust="spacingAndGlyphs" stroke="#111111" stroke-width="0.15">May 21</text>
<text x="155.5" y="678.0" font-size="10.20" font-weight="normal" fill="#111111" text-anchor="middle" textLength="27.8" lengthAdjust="spacingAndGlyphs" stroke="#111111" stroke-width="0.15">May 22</text>
<text x="210.5" y="678.0" font-size="10.20" font-weight="normal" fill="#111111" text-anchor="middle" textLength="27.8" lengthAdjust="spacingAndGlyphs" stroke="#111111" stroke-width="0.15">May 23</text>
<text x="265.5" y="678.0" font-size="10.20" font-weight="normal" fill="#111111" text-anchor="middle" textLength="27.8" lengthAdjust="spacingAndGlyphs" stroke="#111111" stroke-width="0.15">May 24</text>
<text x="320.5" y="678.0" font-size="10.20" font-weight="normal" fill="#111111" text-anchor="middle" textLength="27.8" lengthAdjust="spacingAndGlyphs" stroke="#111111" stroke-width="0.15">May 25</text>
<rect x="78.8" y="660.1" width="17.3" height="4.5" fill="#061452"/>
<text x="98.6" y="665.8" font-size="8.60" font-weight="normal" fill="#111111" text-anchor="start" textLength="58.9" lengthAdjust="spacingAndGlyphs" stroke="#111111" stroke-width="0.15">Speculative long</text>
<rect x="173.1" y="660.1" width="17.7" height="4.5" fill="#22b4e7"/>
<text x="192.9" y="665.8" font-size="8.60" font-weight="normal" fill="#111111" text-anchor="start" textLength="61.8" lengthAdjust="spacingAndGlyphs" stroke="#111111" stroke-width="0.15">Speculative short</text>
<rect x="269.5" y="661.6" width="18.9" height="2.0" fill="#f9b52a"/>
<text x="289.9" y="665.8" font-size="8.60" font-weight="normal" fill="#111111" text-anchor="start" textLength="50.1" lengthAdjust="spacingAndGlyphs" stroke="#111111" stroke-width="0.15">Net long total</text>
<text x="8.0" y="696.2" font-size="8.80" font-weight="normal" fill="#111111" text-anchor="start" textLength="80.3" lengthAdjust="spacingAndGlyphs" stroke="#111111" stroke-width="0.15">Data: AMT, Bloomberg</text>
<rect x="388.5" y="466.5" width="370.0" height="236.0" fill="#fff" stroke="#d9d9d9" stroke-width="1.3"/>
<text x="392.7" y="483.6" font-size="13.00" font-weight="bold" fill="#061452" text-anchor="start" textLength="145.6" lengthAdjust="spacingAndGlyphs" stroke="#061452" stroke-width="0.25">LME Zinc managed money</text>
<text x="394.9" y="499.9" font-size="9.80" font-weight="bold" fill="#061452" text-anchor="start" textLength="56.6" lengthAdjust="spacingAndGlyphs">'000 contracts</text>
<line x1="432.4" y1="510.50" x2="745.6" y2="510.50" stroke="#d5d5d5" stroke-width="1"/>
<line x1="432.4" y1="527.50" x2="745.6" y2="527.50" stroke="#d5d5d5" stroke-width="1"/>
<line x1="432.4" y1="544.50" x2="745.6" y2="544.50" stroke="#d5d5d5" stroke-width="1"/>
<line x1="432.4" y1="561.50" x2="745.6" y2="561.50" stroke="#d5d5d5" stroke-width="1"/>
<line x1="432.4" y1="578.50" x2="745.6" y2="578.50" stroke="#d5d5d5" stroke-width="1"/>
<line x1="432.4" y1="595.50" x2="745.6" y2="595.50" stroke="#d5d5d5" stroke-width="1"/>
<line x1="432.4" y1="612.50" x2="745.6" y2="612.50" stroke="#d5d5d5" stroke-width="1"/>
<line x1="432.4" y1="629.50" x2="745.6" y2="629.50" stroke="#d5d5d5" stroke-width="1"/>
<line x1="432.4" y1="646.50" x2="745.6" y2="646.50" stroke="#d5d5d5" stroke-width="1"/>
<line x1="432.4" y1="663.50" x2="745.6" y2="663.50" stroke="#d5d5d5" stroke-width="1"/>
<polygon points="477.0,646.0 477.0,544.9 478.0,546.8 483.9,544.9 486.9,538.9 490.9,534.9 492.9,537.9 496.9,543.9 499.8,541.9 502.8,534.9 505.8,536.9 507.8,539.9 510.8,545.8 513.7,554.8 517.7,553.8 520.7,556.8 523.7,561.7 527.7,558.8 531.6,562.7 535.6,572.7 540.6,572.7 544.6,579.6 547.5,583.6 551.5,594.6 555.5,594.6 559.5,587.6 561.0,589.6 565.0,595.5 569.9,594.6 575.9,590.6 578.9,593.6 583.4,583.6 586.8,592.6 591.8,596.5 596.8,597.5 601.7,599.5 605.7,595.5 610.7,591.6 613.7,593.6 617.6,589.6 620.6,583.6 623.6,585.6 627.6,585.6 631.6,593.6 636.5,594.6 639.5,598.5 641.9,589.6 644.5,603.5 646.6,599.7 650.8,580.9 653.4,578.4 655.9,572.4 659.3,581.8 662.7,578.4 665.3,588.6 669.6,583.5 672.1,585.2 675.5,572.4 678.9,574.9 681.5,582.6 684.9,573.2 689.2,582.6 694.3,577.5 697.7,582.6 700.2,580.9 702.8,591.1 705.4,598.8 709.6,595.4 713.0,592.8 715.6,589.4 719.0,591.1 724.1,586.0 727.5,574.1 730.9,567.3 736.0,564.7 740.8,562.2 742.9,569.0 744.9,568.1 744.9,646.0" fill="#061452"/>
<polygon points="477.0,646.0 477.0,615.4 481.9,613.4 486.9,612.4 490.9,611.5 495.9,615.4 501.8,612.4 507.8,615.4 512.8,617.4 517.7,620.4 521.7,623.4 524.7,629.3 530.6,626.4 534.6,632.3 538.6,636.3 543.6,634.3 548.5,632.3 553.5,630.3 558.0,633.3 564.0,628.3 569.9,620.4 575.9,622.4 581.9,628.3 587.8,620.4 593.8,611.5 597.8,605.5 601.7,599.5 606.7,603.5 610.1,602.5 613.3,594.6 616.6,603.5 620.6,609.5 625.6,612.4 629.6,609.5 634.5,612.4 638.5,605.5 641.9,589.6 644.5,605.5 647.4,605.6 652.5,618.4 657.6,619.3 662.7,616.7 667.9,619.3 673.0,621.8 678.1,626.1 683.2,622.7 688.3,616.7 693.4,612.4 698.5,615.0 702.8,617.6 707.1,602.2 711.3,607.3 714.7,605.6 719.0,614.1 724.1,611.6 728.4,601.4 732.6,601.4 737.7,598.8 742.0,601.4 744.9,603.1 744.9,646.0" fill="#22b4e7"/>
<polyline points="477.0,574.7 479.0,577.7 482.9,579.6 485.9,576.7 487.9,569.7 490.9,571.7 492.9,568.7 495.9,575.7 498.8,572.7 501.8,567.7 503.8,569.7 507.4,564.7 509.8,575.7 513.7,579.6 517.7,580.6 521.7,580.6 525.7,574.7 528.7,577.7 531.6,582.6 534.6,586.6 537.6,584.6 540.6,583.2 543.6,593.6 546.6,591.6 549.5,605.5 552.5,610.5 555.5,610.5 559.5,599.5 560.0,598.5 564.0,611.5 568.9,622.4 572.9,617.4 576.9,611.5 579.9,613.4 582.9,599.5 586.8,613.4 590.8,624.4 595.8,635.3 601.7,646.2 605.7,640.3 608.7,637.3 611.3,629.3 613.7,644.3 616.6,638.3 619.6,617.4 623.6,623.4 627.6,617.4 630.6,637.3 634.5,624.4 637.5,633.3 641.5,655.2 643.5,653.2 645.7,638.0 647.4,642.3 650.0,616.7 653.4,604.8 656.8,599.7 659.3,610.7 662.7,603.1 666.2,620.1 669.6,605.6 672.1,605.6 675.5,590.3 678.9,594.5 682.4,608.2 685.8,599.7 690.0,614.1 694.3,616.7 697.7,612.4 700.2,604.8 702.8,615.0 705.4,637.2 707.9,642.3 710.5,633.7 713.0,630.3 713.9,637.2 717.3,623.5 719.8,615.0 723.3,615.0 725.0,620.1 727.5,613.3 730.1,615.8 732.6,610.7 736.0,605.6 738.6,613.3 741.2,605.6 742.9,613.3 745.4,609.9" fill="none" stroke="#f9b52a" stroke-width="1.90" stroke-linejoin="round"/>
<text x="422.2" y="514.0" font-size="10.00" font-weight="normal" fill="#111111" text-anchor="end" textLength="14.8" lengthAdjust="spacingAndGlyphs" stroke="#111111" stroke-width="0.15">160</text>
<text x="422.2" y="531.0" font-size="10.00" font-weight="normal" fill="#111111" text-anchor="end" textLength="14.8" lengthAdjust="spacingAndGlyphs" stroke="#111111" stroke-width="0.15">140</text>
<text x="422.2" y="548.0" font-size="10.00" font-weight="normal" fill="#111111" text-anchor="end" textLength="14.8" lengthAdjust="spacingAndGlyphs" stroke="#111111" stroke-width="0.15">120</text>
<text x="422.2" y="565.0" font-size="10.00" font-weight="normal" fill="#111111" text-anchor="end" textLength="14.8" lengthAdjust="spacingAndGlyphs" stroke="#111111" stroke-width="0.15">100</text>
<text x="422.2" y="582.0" font-size="10.00" font-weight="normal" fill="#111111" text-anchor="end" textLength="9.9" lengthAdjust="spacingAndGlyphs" stroke="#111111" stroke-width="0.15">80</text>
<text x="422.2" y="599.0" font-size="10.00" font-weight="normal" fill="#111111" text-anchor="end" textLength="9.9" lengthAdjust="spacingAndGlyphs" stroke="#111111" stroke-width="0.15">60</text>
<text x="422.2" y="616.0" font-size="10.00" font-weight="normal" fill="#111111" text-anchor="end" textLength="9.9" lengthAdjust="spacingAndGlyphs" stroke="#111111" stroke-width="0.15">40</text>
<text x="422.2" y="633.0" font-size="10.00" font-weight="normal" fill="#111111" text-anchor="end" textLength="9.9" lengthAdjust="spacingAndGlyphs" stroke="#111111" stroke-width="0.15">20</text>
<text x="422.2" y="650.0" font-size="10.00" font-weight="normal" fill="#111111" text-anchor="end" textLength="4.9" lengthAdjust="spacingAndGlyphs" stroke="#111111" stroke-width="0.15">0</text>
<text x="422.2" y="667.0" font-size="10.00" font-weight="normal" fill="#111111" text-anchor="end" textLength="13.4" lengthAdjust="spacingAndGlyphs" stroke="#111111" stroke-width="0.15">-20</text>
<text x="432.0" y="679.8" font-size="10.20" font-weight="normal" fill="#111111" text-anchor="middle" textLength="27.8" lengthAdjust="spacingAndGlyphs" stroke="#111111" stroke-width="0.15">May 20</text>
<text x="487.0" y="679.8" font-size="10.20" font-weight="normal" fill="#111111" text-anchor="middle" textLength="27.8" lengthAdjust="spacingAndGlyphs" stroke="#111111" stroke-width="0.15">May 21</text>
<text x="542.0" y="679.8" font-size="10.20" font-weight="normal" fill="#111111" text-anchor="middle" textLength="27.8" lengthAdjust="spacingAndGlyphs" stroke="#111111" stroke-width="0.15">May 22</text>
<text x="597.0" y="679.8" font-size="10.20" font-weight="normal" fill="#111111" text-anchor="middle" textLength="27.8" lengthAdjust="spacingAndGlyphs" stroke="#111111" stroke-width="0.15">May 23</text>
<text x="652.0" y="679.8" font-size="10.20" font-weight="normal" fill="#111111" text-anchor="middle" textLength="27.8" lengthAdjust="spacingAndGlyphs" stroke="#111111" stroke-width="0.15">May 24</text>
<text x="707.0" y="679.8" font-size="10.20" font-weight="normal" fill="#111111" text-anchor="middle" textLength="27.8" lengthAdjust="spacingAndGlyphs" stroke="#111111" stroke-width="0.15">May 25</text>
<rect x="465.2" y="660.4" width="17.5" height="4.4" fill="#061452"/>
<text x="484.8" y="665.2" font-size="8.60" font-weight="normal" fill="#111111" text-anchor="start" textLength="59.0" lengthAdjust="spacingAndGlyphs" stroke="#111111" stroke-width="0.15">Speculative long</text>
<rect x="560.0" y="660.4" width="16.8" height="4.4" fill="#22b4e7"/>
<text x="579.6" y="665.2" font-size="8.60" font-weight="normal" fill="#111111" text-anchor="start" textLength="61.4" lengthAdjust="spacingAndGlyphs" stroke="#111111" stroke-width="0.15">Speculative short</text>
<rect x="656.8" y="661.0" width="18.4" height="2.0" fill="#f9b52a"/>
<text x="676.8" y="665.2" font-size="8.60" font-weight="normal" fill="#111111" text-anchor="start" textLength="49.9" lengthAdjust="spacingAndGlyphs" stroke="#111111" stroke-width="0.15">Net long total</text>
<text x="394.7" y="695.1" font-size="8.80" font-weight="normal" fill="#111111" text-anchor="start" textLength="79.3" lengthAdjust="spacingAndGlyphs" stroke="#111111" stroke-width="0.15">Data: AMT, Bloomberg</text>
</svg></body></html>
